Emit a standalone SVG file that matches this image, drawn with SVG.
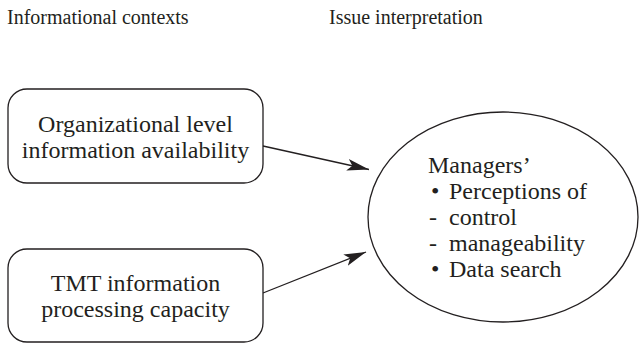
<svg xmlns="http://www.w3.org/2000/svg" width="639" height="344" viewBox="0 0 639 344">
<style>
  text { font-family: "Liberation Serif", "Times New Roman", serif; fill: #231f20; }
  .hdr { font-size: 20px; }
  .body { font-size: 24px; }
  .shape { fill: #fff; stroke: #231f20; stroke-width: 1.3; }
  .conn { stroke: #231f20; stroke-width: 1.3; fill: none; }
</style>
<defs>
  <marker id="arr" markerUnits="userSpaceOnUse" markerWidth="26" markerHeight="16" refX="22" refY="8" orient="auto" viewBox="0 0 26 16">
    <path d="M0,2 L22,8 L0,14 L5,8 Z" fill="#231f20"/>
  </marker>
</defs>
<rect width="639" height="344" fill="#fff"/>
<g id="headers">
  <text class="hdr" x="7" y="24">Informational contexts</text>
  <text class="hdr" x="329" y="24">Issue interpretation</text>
</g>
<g id="connectors">
  <line class="conn" x1="263" y1="146" x2="369" y2="169.5" marker-end="url(#arr)"/>
  <line class="conn" x1="263" y1="293" x2="366" y2="252" marker-end="url(#arr)"/>
</g>
<g id="node-org">
  <rect class="shape" x="8" y="89" width="255" height="94" rx="19" ry="19"/>
  <text class="body" x="135.5" y="132" text-anchor="middle">Organizational level</text>
  <text class="body" x="135.5" y="158" text-anchor="middle">information availability</text>
</g>
<g id="node-tmt">
  <rect class="shape" x="8" y="249" width="255" height="93" rx="19" ry="19"/>
  <text class="body" x="135.5" y="291" text-anchor="middle">TMT information</text>
  <text class="body" x="135.5" y="317" text-anchor="middle">processing capacity</text>
</g>
<g id="node-issue">
  <ellipse class="shape" cx="503" cy="217" rx="135" ry="105"/>
  <text class="body" x="428" y="173">Managers’</text>
  <text class="body" x="431" y="199">•</text><text class="body" x="449" y="199">Perceptions of</text>
  <text class="body" x="429" y="225">-</text><text class="body" x="449" y="225">control</text>
  <text class="body" x="429" y="251">-</text><text class="body" x="449" y="251">manageability</text>
  <text class="body" x="431" y="277">•</text><text class="body" x="449" y="277">Data search</text>
</g>
</svg>
